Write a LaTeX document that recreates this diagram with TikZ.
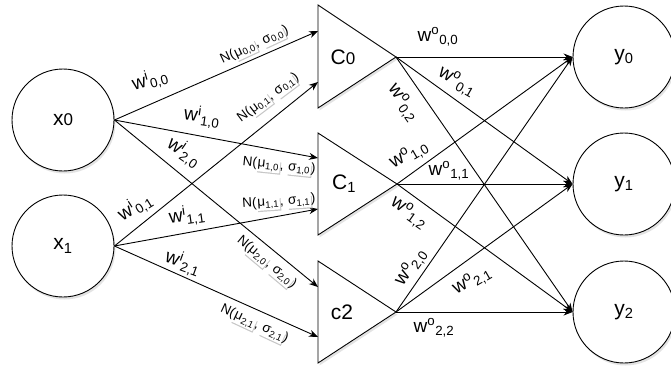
\documentclass[tikz,border=0pt]{standalone}
\usepackage{fontspec}
\setmainfont{Liberation Sans}
\usetikzlibrary{shadows,arrows.meta}
\newcommand{\wi}[1]{w\textsuperscript{i}\textsubscript{#1}}
\newcommand{\wo}[1]{w\textsuperscript{o}\textsubscript{#1}}
\newcommand{\shbox}[1]{%
  \begingroup\setlength{\fboxsep}{0.9pt}%
  \sbox0{\colorbox{white}{#1}}%
  \rlap{\kern1pt\raisebox{-1.2pt}{\textcolor{black!22}{\rule[-\dp0]{\wd0}{\dimexpr\ht0+\dp0\relax}}}}%
  \usebox0\endgroup}
\newcommand{\Nl}[1]{N(\shbox{μ\textsubscript{#1}}, \shbox{σ\textsubscript{#1}})}
\tikzset{
  shp/.style={draw, line width=0.9pt, fill=white,
    drop shadow={opacity=0.22, shadow xshift=1.5pt, shadow yshift=-2.5pt}},
  circ/.style={shp, circle, minimum size=102pt, inner sep=0pt,
    font=\fontsize{21}{21}\selectfont},
  tlabel/.style={font=\fontsize{21}{21}\selectfont, inner sep=0pt},
  arr/.style={line width=0.9pt, -{Stealth[length=9pt,width=7pt]}},
  wl/.style={font=\fontsize{19}{19}\selectfont, inner sep=0pt},
  nl/.style={font=\fontsize{13.5}{13.5}\selectfont, inner sep=0pt}
}
\begin{document}
\begin{tikzpicture}[x=1pt,y=-1pt]
\useasboundingbox (0,0) rectangle (671,372);
% input / output circles
\node[circ] (x0) at (63,120) {x{\fontsize{17}{17}\selectfont 0}};
\node[circ] (x1) at (63,246) {x\textsubscript{1}};
\node[circ] (y0) at (624,57) {y\textsubscript{0}};
\node[circ] (y1) at (624,184) {y\textsubscript{1}};
\node[circ] (y2) at (624,312) {y\textsubscript{2}};
% triangles
\path[shp] (318,5) -- (318,108) -- (396,57) -- cycle;
\path[shp] (318,133) -- (318,235) -- (397,184) -- cycle;
\path[shp] (318,261) -- (318,363) -- (396,312) -- cycle;
\node[tlabel] (C0) at (343,57) {C{\fontsize{17}{17}\selectfont 0}};
\node[tlabel] (C1) at (344,184) {C\textsubscript{1}};
\node[tlabel] (C2) at (342,312) {c2};
\coordinate (C0a) at (396,57);
\coordinate (C1a) at (397,184);
\coordinate (C2a) at (396,312);
\coordinate (C0i0) at (318,31);
\coordinate (C0i1) at (318,82);
\coordinate (C1i0) at (318,158);
\coordinate (C1i1) at (318,209);
\coordinate (C2i0) at (318,287);
\coordinate (C2i1) at (318,337);
% input connectors
\draw[arr] (x0.east) -- (C0i0);
\draw[arr] (x1.east) -- (C0i1);
\draw[arr] (x0.east) -- (C1i0);
\draw[arr] (x1.east) -- (C1i1);
\draw[arr] (x0.east) -- (C2i0);
\draw[arr] (x1.east) -- (C2i1);
% output connectors
\foreach \c in {0,1,2}{
  \foreach \y in {0,1,2}{
    \draw[arr] (C\c a) -- (y\y.west);
  }
}
% input labels
\node[wl, rotate=16] (lw00) at (150,80) {\wi{0,0}};
\node[nl, rotate=25] (ln00) at (255,46) {\Nl{0,0}};
\node[wl, rotate=32] (lw01) at (135,207) {\wi{0,1}};
\node[nl, rotate=37] (ln01) at (269,99) {\Nl{0,1}};
\node[wl, rotate=-8] (lw10) at (202,117) {\wi{1,0}};
\node[nl, rotate=-6] (ln10) at (279,167) {\Nl{1,0}};
\node[wl, rotate=8] (lw11) at (187,216) {\wi{1,1}};
\node[nl, rotate=4] (ln11) at (279,203) {\Nl{1,1}};
\node[wl, rotate=-35] (lw20) at (184,152) {\wi{2,0}};
\node[nl, rotate=-40] (ln20) at (266,263) {\Nl{2,0}};
\node[wl, rotate=-20] (lw21) at (183,263) {\wi{2,1}};
\node[nl, rotate=-25] (ln21) at (254,325) {\Nl{2,1}};
% output labels
\node[wl] (lo00) at (438,37) {\wo{0,0}};
\node[wl, rotate=-30] (lo01) at (457,82) {\wo{0,1}};
\node[wl, rotate=-55] (lo02) at (403,103) {\wo{0,2}};
\node[wl, rotate=30] (lo10) at (409,155) {\wo{1,0}};
\node[wl] (lo11) at (449,171) {\wo{1,1}};
\node[wl, rotate=-35] (lo12) at (409,213) {\wo{1,2}};
\node[wl, rotate=55] (lo20) at (411,267) {\wo{2,0}};
\node[wl, rotate=30] (lo21) at (472,281) {\wo{2,1}};
\node[wl] (lo22) at (434,328) {\wo{2,2}};
\end{tikzpicture}
\end{document}
